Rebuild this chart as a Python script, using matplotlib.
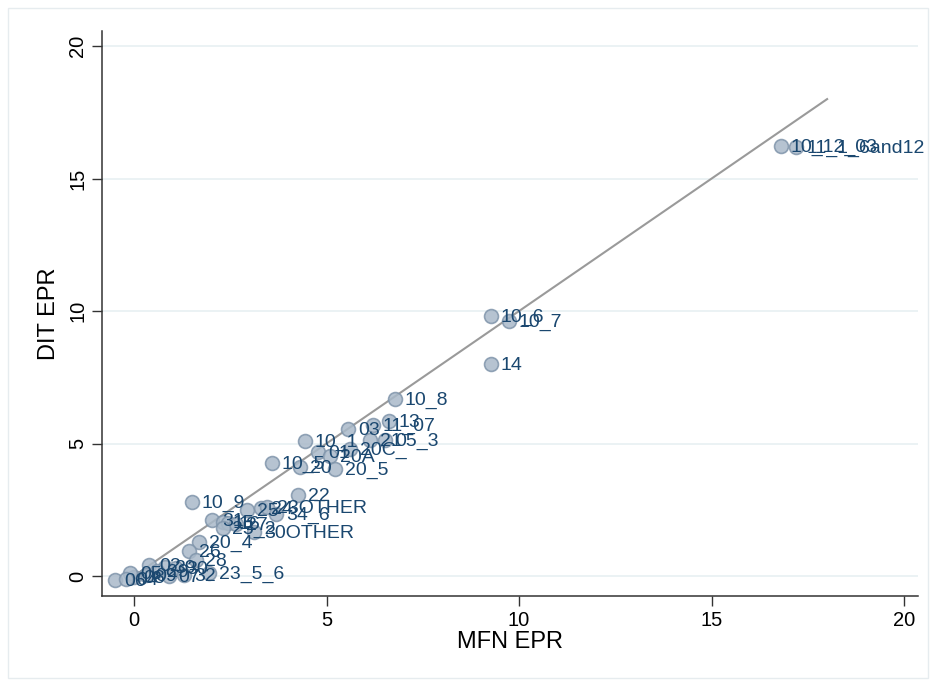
import matplotlib
matplotlib.use("Agg")
import matplotlib.pyplot as plt
from matplotlib.patches import Rectangle

plt.rcParams['font.family'] = ['Liberation Sans', 'DejaVu Sans']

labels = ["10_12_03", "11_1_6and12", "10_6", "10_7", "14", "10_8", "13", "11_07", "03",
          "10_1", "21", "05_3", "20C_", "01", "20A", "10_5", "20", "20_5",
          "10_9", "22", "25", "24", "23OTHER", "34_6", "31", "15", "16", "27", "25_2", "30OTHER",
          "20_4", "26", "28", "23_5_6", "02", "39", "30", "29", "07", "09", "08", "05", "06", "04", "32"]
mfn = [16.8, 17.2, 9.27, 9.74, 9.27, 6.78, 6.62, 6.2, 5.56,
       4.44, 6.13, 6.52, 5.61, 4.78, 5.09, 3.58, 4.31, 5.22,
       1.5, 4.26, 2.94, 3.3, 3.45, 3.7, 2.03, 2.3, 2.45, 2.65, 2.3, 3.12,
       1.69, 1.43, 1.6, 1.95, 0.4, 0.8, 1.1, 0.6, 0.9, 0.3, 0.0, -0.1, -0.5, -0.2, 1.3]
dit = [16.23, 16.2, 9.81, 9.62, 8.0, 6.68, 5.85, 5.7, 5.55,
       5.09, 5.13, 5.13, 4.79, 4.68, 4.53, 4.26, 4.11, 4.04,
       2.8, 3.06, 2.49, 2.55, 2.6, 2.35, 2.11, 2.05, 2.0, 1.95, 1.8, 1.66,
       1.28, 0.94, 0.6, 0.1, 0.4, 0.35, 0.3, 0.2, 0.0, 0.05, -0.05, 0.1, -0.15, -0.1, 0.05]
line_x = [0, 18]
xticks = [0, 5, 10, 15, 20]
yticks = [0, 5, 10, 15, 20]

fig = plt.figure(figsize=(9.36, 6.86), dpi=100)
fig.patches.append(Rectangle((0.009, 0.012), 0.982, 0.976, transform=fig.transFigure,
                             fill=False, edgecolor='#e6ecef', linewidth=1))
ax = fig.add_axes([102/936, 1-596/686, (918-102)/936, (596-31)/686])
ax.set_xlim(-0.83, 20.36)
ax.set_ylim(-0.755, 20.57)

for t in yticks:
    ax.axhline(t, color='#e8f0f2', linewidth=1.2, zorder=0)

ax.plot(line_x, line_x, color='#9a9a9a', linewidth=1.5, zorder=1)
ax.scatter(mfn, dit, s=100, facecolor='#a9b9c9', edgecolor='#8095ab', linewidth=1.2,
           alpha=0.85, zorder=2)
for lab, x, y in zip(labels, mfn, dit):
    ax.annotate(lab, (x, y), xytext=(7, -1), textcoords='offset points', va='center',
                ha='left', fontsize=14, color='#1a476f', zorder=3)

for s in ['top', 'right']:
    ax.spines[s].set_visible(False)
for s in ['left', 'bottom']:
    ax.spines[s].set_color('#333333')
    ax.spines[s].set_linewidth(1.1)
ax.set_xticks(xticks)
ax.set_yticks(yticks)
ax.tick_params(direction='out', length=7, width=1, colors='#333333', labelsize=14.5,
               labelcolor='black')
for lab in ax.get_yticklabels():
    lab.set_rotation(90)
    lab.set_va('center')
ax.set_xlabel('MFN EPR', fontsize=17, labelpad=1)
ax.set_ylabel('DIT EPR', fontsize=17, labelpad=6)

fig.savefig('out.png', dpi=100)
